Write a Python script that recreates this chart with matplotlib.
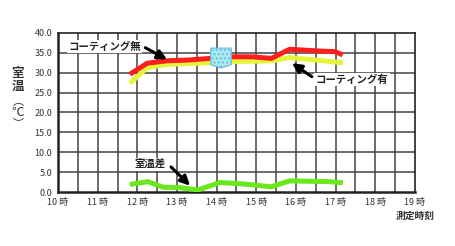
import matplotlib
matplotlib.use("Agg")
import matplotlib.pyplot as plt
from matplotlib.patches import Polygon

plt.rcParams['font.family'] = ['Noto Sans CJK JP', 'DejaVu Sans']

# data
hours = [10, 11, 12, 13, 14, 15, 16, 17, 18, 19]
hour_labels = [f"{h} 時" for h in hours]
y_ticks = [0, 5, 10, 15, 20, 25, 30, 35, 40]

no_coat_t = [11.81, 12.25, 12.75, 13.3, 13.83, 14.33, 14.9, 15.38, 15.84, 16.5, 16.98, 17.18]
no_coat_v = [29.6, 32.4, 33.0, 33.2, 33.6, 34.0, 34.0, 33.6, 35.9, 35.5, 35.3, 34.5]

coat_t = [11.81, 12.25, 12.75, 13.3, 13.83, 14.33, 14.9, 15.38, 15.84, 16.5, 17.18]
coat_v = [27.3, 31.3, 32.1, 32.3, 32.5, 32.8, 32.9, 33.0, 33.8, 33.2, 32.5]

diff_t = [11.81, 12.27, 12.65, 13.07, 13.53, 14.08, 14.7, 15.38, 15.84, 16.85, 17.18]
diff_v = [1.9, 2.6, 1.2, 1.1, 0.5, 2.4, 2.0, 1.3, 2.8, 2.6, 2.3]

fig = plt.figure(figsize=(4.55, 2.46), dpi=100)
ax = fig.add_axes([0.1275, 0.2195, 0.7845, 0.6465])

ax.set_xlim(10, 19)
ax.set_ylim(0, 40)

# grid every half hour / every 5 degrees
for x in [10 + 0.5 * i for i in range(1, 18)]:
    ax.axvline(x, color='#444444', lw=1.1, zorder=1)
for y in y_ticks[1:-1]:
    ax.axhline(y, color='#444444', lw=1.1, zorder=1)
for s in ax.spines.values():
    s.set_color('#222222')
    s.set_linewidth(1.2)
ax.spines['left'].set_linewidth(1.8)
ax.spines['bottom'].set_linewidth(1.8)

ax.set_xticks(hours)
ax.set_xticklabels(hour_labels, fontsize=6.5, color='#333333')
ax.set_yticks(y_ticks)
ax.set_yticklabels([f"{v:.1f}" for v in y_ticks], fontsize=6.5, color='#333333')
ax.tick_params(length=0, pad=4)

ax.plot(coat_t, coat_v, color='#e4f53a', lw=3.6, solid_capstyle='butt', zorder=3)
ax.plot(no_coat_t, no_coat_v, color='#ff1e1e', lw=3.6, solid_capstyle='butt', zorder=4)
ax.plot(diff_t, diff_v, color='#6ae81c', lw=3.6, solid_capstyle='butt', zorder=3)

# cyan marker shape around 14h
shape = Polygon([(13.85, 36.2), (14.37, 36.2), (14.37, 32.0), (14.11, 31.2), (13.85, 32.0)],
                closed=True, facecolor='#a8ecf0', edgecolor='#6fb8e0', lw=0.8,
                hatch='....', zorder=5)
ax.add_patch(shape)

box = dict(facecolor='white', edgecolor='none', pad=1.0)
arrow = dict(arrowstyle='-|>', color='black', lw=2.2, mutation_scale=14, shrinkA=0, shrinkB=0)
ax.text(11.18, 36.5, "コーティング無", fontsize=7.5, ha='center', va='center',
        weight='bold', color='#222222', bbox=box, zorder=6)
ax.annotate('', xy=(12.75, 33.3), xytext=(12.2, 36.3), arrowprops=arrow, zorder=6)
ax.text(16.5, 28.2, "コーティング有", fontsize=7.5, ha='left', va='center',
        weight='bold', color='#222222', bbox=box, zorder=6)
ax.annotate('', xy=(15.9, 32.4), xytext=(16.4, 29.0), arrowprops=arrow, zorder=6)
ax.text(12.32, 7.0, "室温差", fontsize=7.5, ha='center', va='center',
        weight='bold', color='#222222', bbox=box, zorder=6)
ax.annotate('', xy=(13.33, 1.6), xytext=(12.85, 6.3), arrowprops=arrow, zorder=6)

# vertical y label
fig.text(18 / 455, 1 - 73 / 246, "室", fontsize=9, ha='center', va='center', weight='bold', color='#333333')
fig.text(18 / 455, 1 - 86 / 246, "温", fontsize=9, ha='center', va='center', weight='bold', color='#333333')
fig.text(18 / 455, 1 - 101 / 246, "︵", fontsize=8, ha='center', va='center', color='#333333')
fig.text(18 / 455, 1 - 112 / 246, "℃", fontsize=9, ha='center', va='center', color='#333333')
fig.text(18 / 455, 1 - 123 / 246, "︶", fontsize=8, ha='center', va='center', color='#333333')

fig.text(415 / 455, 1 - 216 / 246, "測定時刻", fontsize=7, ha='center', va='center', weight='bold', color='#333333')

fig.savefig("out.png", dpi=100)
